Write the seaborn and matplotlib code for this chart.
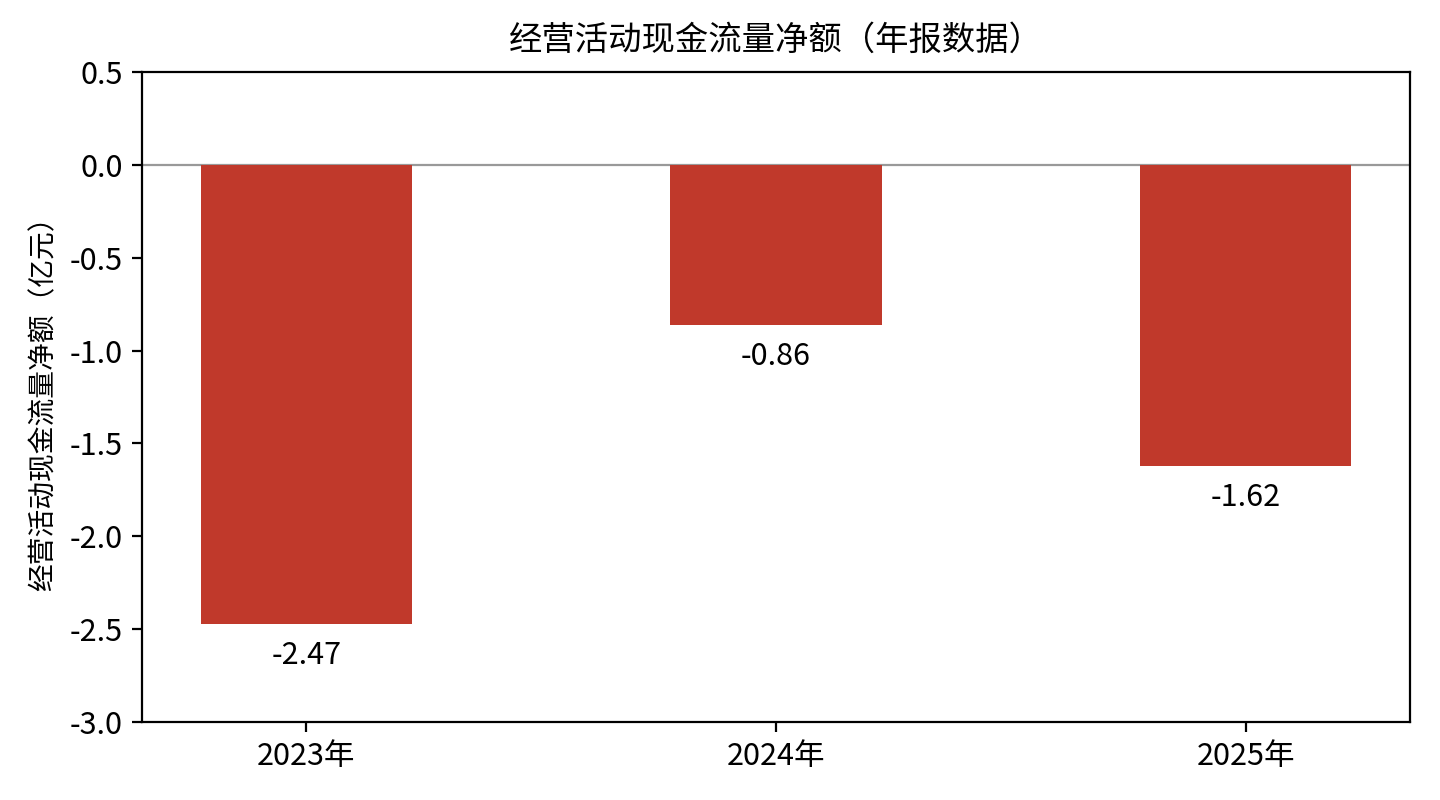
import matplotlib
matplotlib.use("Agg")
import matplotlib.pyplot as plt
import seaborn as sns
import pandas as pd

years = ["2023年", "2024年", "2025年"]
values = [-2.47, -0.86, -1.62]
title = "经营活动现金流量净额（年报数据）"
ylabel = "经营活动现金流量净额（亿元）"

sns.set_style("white")
plt.rcParams['font.family'] = ['Noto Sans CJK SC', 'DejaVu Sans']
plt.rcParams['axes.unicode_minus'] = False
plt.rcParams['text.color'] = 'black'
plt.rcParams['axes.labelcolor'] = 'black'
plt.rcParams['xtick.color'] = 'black'
plt.rcParams['ytick.color'] = 'black'

df = pd.DataFrame({"year": years, "value": values})

fig = plt.figure(figsize=(7.2, 4), dpi=200)
ax = fig.add_axes([0.0986, 0.0975, 0.8806, 0.8125])
sns.barplot(data=df, x="year", y="value", color="#C0392B", width=0.45,
            saturation=1, linewidth=0, ax=ax)
ax.axhline(0, color="#999999", linewidth=0.8, zorder=0)
for i, v in enumerate(values):
    ax.annotate(f"{v:.2f}", xy=(i, v), xytext=(0, -6), textcoords="offset points",
                ha="center", va="top", fontsize=11)
ax.set_xlim(-0.35, 2.35)
ax.set_ylim(-3.0, 0.5)
ticks = [0.5, 0.0, -0.5, -1.0, -1.5, -2.0, -2.5, -3.0]
ax.set_yticks(ticks)
ax.set_yticklabels([f"{t:.1f}" for t in ticks])
ax.set_title(title, fontsize=12, pad=8)
ax.set_xlabel("")
ax.set_ylabel(ylabel, fontsize=10)
ax.tick_params(axis="both", labelsize=11, length=3.5, width=0.8, bottom=True, left=True)
for s in ax.spines.values():
    s.set_color("black")
    s.set_linewidth(0.8)
fig.savefig("out.png", dpi=200)
